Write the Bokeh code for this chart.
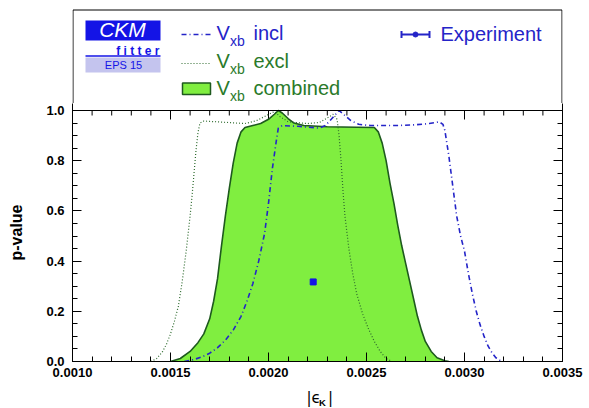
from bokeh.plotting import figure
from bokeh.models import Range1d, LinearAxis, FixedTicker, PrintfTickFormatter, Span
from bokeh.layouts import column
from bokeh.core.properties import value
from bokeh.embed import file_html
from bokeh.resources import INLINE

FONT = "Liberation Sans"

# ---------------- data ----------------
comb_x = [0.00150, 0.00155, 0.00160, 0.00164, 0.00167, 0.00170, 0.00172, 0.00174, 0.00176,
          0.00178, 0.00180, 0.00182, 0.00184, 0.00186, 0.00188, 0.00192, 0.00196, 0.00200,
          0.00203, 0.00205, 0.00207, 0.00210, 0.00213, 0.00218, 0.00230, 0.00245, 0.00254,
          0.00256, 0.00258, 0.00260, 0.00262, 0.00264, 0.00266, 0.00268, 0.00270, 0.00272,
          0.00274, 0.00276, 0.00278, 0.00280, 0.00283, 0.00286, 0.00290, 0.00292]
comb_y = [0.0, 0.012, 0.04, 0.075, 0.11, 0.17, 0.24, 0.33, 0.46,
          0.58, 0.69, 0.79, 0.87, 0.915, 0.932, 0.94, 0.948, 0.965,
          0.985, 1.0, 0.99, 0.968, 0.95, 0.94, 0.935, 0.933, 0.932,
          0.915, 0.87, 0.80, 0.71, 0.63, 0.54, 0.46, 0.39, 0.32,
          0.25, 0.18, 0.125, 0.08, 0.04, 0.015, 0.003, 0.0]

incl_x = [0.00157, 0.00162, 0.00166, 0.00170, 0.00174, 0.00178, 0.00182, 0.00186, 0.00189,
          0.00192, 0.00195, 0.00198, 0.00200, 0.00202, 0.00204, 0.00205, 0.00207, 0.00215,
          0.00226, 0.00229, 0.00232, 0.00236, 0.00239, 0.00242, 0.00246, 0.00252, 0.00265,
          0.00275, 0.00282, 0.00287, 0.00289, 0.00290, 0.00292, 0.00294, 0.00296, 0.00298,
          0.00300, 0.00302, 0.00304, 0.00306, 0.00308, 0.00310, 0.00312, 0.00314, 0.00316,
          0.00318, 0.00320]
incl_y = [0.0, 0.008, 0.018, 0.033, 0.055, 0.085, 0.125, 0.18, 0.24,
          0.31, 0.40, 0.51, 0.63, 0.77, 0.88, 0.93, 0.94, 0.937,
          0.93, 0.94, 0.965, 1.0, 0.98, 0.96, 0.945, 0.94, 0.94,
          0.943, 0.948, 0.955, 0.945, 0.92, 0.82, 0.70, 0.58, 0.50,
          0.44, 0.35, 0.27, 0.20, 0.145, 0.10, 0.062, 0.035, 0.015,
          0.005, 0.0]

excl_x = [0.00140, 0.00143, 0.00146, 0.00148, 0.00150, 0.00152, 0.00154, 0.00156, 0.00158,
          0.00160, 0.00161, 0.00162, 0.00163, 0.00164, 0.00165, 0.00167, 0.00180, 0.00188,
          0.00194, 0.00199, 0.00203, 0.00206, 0.00210, 0.00220, 0.00226, 0.00230, 0.00233,
          0.00235, 0.00236, 0.00237, 0.00238, 0.00239, 0.00241, 0.00243, 0.00245, 0.00248,
          0.00251, 0.00254, 0.00257, 0.00260, 0.00263]
excl_y = [0.0, 0.012, 0.04, 0.07, 0.11, 0.16, 0.22, 0.32, 0.44,
          0.58, 0.66, 0.75, 0.84, 0.91, 0.95, 0.958, 0.952, 0.948,
          0.96, 0.98, 0.996, 0.975, 0.955, 0.948, 0.952, 0.97, 0.985,
          0.965, 0.90, 0.80, 0.68, 0.58, 0.45, 0.35, 0.27, 0.19,
          0.13, 0.08, 0.04, 0.012, 0.0]

exp_x = [0.002228]
exp_err = [0.000011]
exp_y = [0.317]

x_major = [0.0010, 0.0015, 0.0020, 0.0025, 0.0030, 0.0035]
x_minor = [0.0010 + 0.0001 * i for i in range(26)]
y_major = [0.0, 0.2, 0.4, 0.6, 0.8, 1.0]
y_minor = [0.05 * i for i in range(21)]

# ---------------- colors ----------------
BLUE = "#2424c8"
GREEN_TXT = "#2a7a2a"
FILL = "#80ee40"
OUT = "#1e5a1e"
DOT = "#2e6b2e"
LOGO_BLUE = "#1414e6"
LAV = "#c4c4ee"

BL, BR = 72, 27          # shared left / right borders (frames are aligned in the column)
W = 589
FR = W - BR              # frame right edge in picture pixels


def txt(fig, x, baseline, s, size, color, font=FONT, style="normal", align="left"):
    """place text by its alphabetic baseline (drawn with a middle anchor)"""
    fig.text(x=[x], y=[baseline - 0.31 * size], text=[s], text_color=color, text_font=value(font),
             text_font_size=f"{size}px", text_font_style=style, text_align=align,
             text_baseline="middle")


# ---------------- top (legend) panel: coordinates = picture pixels ----------------
TOP_H = 103
top = figure(width=W, height=TOP_H, x_range=Range1d(BL, FR), y_range=Range1d(TOP_H, 0),
             x_axis_type=None, y_axis_type=None,
             output_backend="svg", toolbar_location=None,
             min_border_left=BL, min_border_right=BR, min_border_top=0, min_border_bottom=0)
top.grid.visible = False
top.outline_line_color = None

# legend box (left, top, right sides; bottom is the plot's top edge)
top.line(x=[BL + 0.5, BL + 0.5, FR - 0.5, FR - 0.5], y=[TOP_H, 9.5, 9.5, TOP_H],
         line_color="black", line_width=1)

# logo
top.quad(left=[85], right=[160], top=[20], bottom=[40], fill_color=LOGO_BLUE, line_color=None)
top.quad(left=[85], right=[160], top=[57], bottom=[72], fill_color=LAV, line_color=None)
top.segment(x0=[85], y0=[55.5], x1=[160], y1=[55.5], line_color=LOGO_BLUE, line_width=1.5)
txt(top, 122, 36, "CKM", 21, "white", style="italic", align="center")
txt(top, 159, 54, "f i t t e r", 12, LOGO_BLUE, style="bold", align="right")
txt(top, 123, 68, "EPS 15", 11, LOGO_BLUE, align="center")

# legend samples
top.line(x=[181, 210], y=[34, 34], line_color=BLUE, line_width=1.5, line_dash="5 3 1 3")
top.line(x=[181, 210], y=[63, 63], line_color=DOT, line_width=1.2, line_dash="1 2")
top.quad(left=[182], right=[210], top=[82.5], bottom=[94], fill_color=FILL, line_color=OUT, line_width=1.5)

rows = [("incl", 38.5, BLUE), ("excl", 66.5, GREEN_TXT), ("combined", 93.5, GREEN_TXT)]
for word, yb, col in rows:
    txt(top, 216, yb, "V", 20, col)
    txt(top, 229.5, yb + 6, "xb", 14, col)
    txt(top, 253, yb, word, 20, col)

# experiment legend symbol
top.segment(x0=[401], y0=[34], x1=[429], y1=[34], line_color=BLUE, line_width=2)
top.segment(x0=[401, 429], y0=[30.5, 30.5], x1=[401, 429], y1=[37.5, 37.5], line_color=BLUE, line_width=2)
top.scatter(x=[415], y=[34], size=5, color=BLUE)
txt(top, 440, 40, "Experiment", 20, BLUE)

# ---------------- main plot ----------------
MAIN_BOTTOM = 385
YTOP = (361 - TOP_H) / 251.0
p = figure(width=W, height=MAIN_BOTTOM - TOP_H, x_range=Range1d(0.0010, 0.0035), y_range=Range1d(0, YTOP),
           output_backend="svg", toolbar_location=None,
           min_border_left=BL, min_border_right=BR, min_border_top=0, min_border_bottom=MAIN_BOTTOM - 361)
p.grid.visible = False
p.outline_line_color = None


def style_axis(ax, ticker, show_labels, fmt=None):
    ax.ticker = ticker
    if fmt:
        ax.formatter = PrintfTickFormatter(format=fmt)
    ax.major_tick_in = 9
    ax.major_tick_out = 0
    ax.minor_tick_in = 5
    ax.minor_tick_out = 0
    ax.major_tick_line_color = "black"
    ax.minor_tick_line_color = "black"
    ax.axis_line_color = "black"
    if show_labels:
        ax.major_label_text_font = FONT
        ax.major_label_text_font_size = "13px"
        ax.major_label_text_font_style = "bold"
        ax.major_label_text_color = "black"
    else:
        ax.major_label_text_font_size = "0px"
        ax.major_label_text_color = None
        ax.major_label_standoff = 0


style_axis(p.xaxis[0], FixedTicker(ticks=x_major, minor_ticks=x_minor), True, "%.4f")
p.xaxis[0].major_label_standoff = 6
style_axis(p.yaxis[0], FixedTicker(ticks=y_major, minor_ticks=y_minor), True, "%.1f")
p.yaxis[0].major_label_standoff = 8
p.yaxis[0].axis_label = "p-value"
p.yaxis[0].axis_label_text_font = FONT
p.yaxis[0].axis_label_text_font_size = "16px"
p.yaxis[0].axis_label_text_font_style = "bold"
p.yaxis[0].axis_label_text_color = "black"
p.yaxis[0].axis_label_standoff = 18

ax_r = LinearAxis()
style_axis(ax_r, FixedTicker(ticks=y_major, minor_ticks=y_minor), False)
p.add_layout(ax_r, "right")

# top edge of the plot at p-value 1 with inward ticks
p.add_layout(Span(location=1.0, dimension="width", line_color="black", line_width=1))
TL_MAJ = 9 / 251.0
TL_MIN = 5 / 251.0
p.segment(x0=x_major, y0=[1.0] * len(x_major), x1=x_major, y1=[1.0 - TL_MAJ] * len(x_major),
          line_color="black", line_width=1)
p.segment(x0=x_minor, y0=[1.0] * len(x_minor), x1=x_minor, y1=[1.0 - TL_MIN] * len(x_minor),
          line_color="black", line_width=1)

# curves
p.varea(x=comb_x, y1=[0] * len(comb_x), y2=comb_y, fill_color=FILL)
p.line(comb_x, comb_y, line_color=OUT, line_width=1.6)
p.line(excl_x, excl_y, line_color=DOT, line_width=1.2, line_dash="1 2")
p.line(incl_x, incl_y, line_color=BLUE, line_width=1.6, line_dash="5 3 1 3")

# experiment
p.segment(x0=[exp_x[0] - exp_err[0]], y0=exp_y, x1=[exp_x[0] + exp_err[0]], y1=exp_y,
          line_color=LOGO_BLUE, line_width=1.5)
p.scatter(exp_x, exp_y, marker="square", size=6, color=LOGO_BLUE)

# ---------------- bottom strip: x-axis title |eps_K| (coordinates = picture pixels) ----------------
bot = figure(width=W, height=408 - MAIN_BOTTOM, x_range=Range1d(BL, FR), y_range=Range1d(408, MAIN_BOTTOM),
             x_axis_type=None, y_axis_type=None,
             output_backend="svg", toolbar_location=None,
             min_border_left=BL, min_border_right=BR, min_border_top=0, min_border_bottom=0)
bot.grid.visible = False
bot.outline_line_color = None
txt(bot, 306, 402, "|ϵ", 15, "black", font="DejaVu Sans")
txt(bot, 318.5, 405, "K", 9.5, "black", style="bold")
txt(bot, 327.5, 402, "|", 15, "black", font="DejaVu Sans")

layout = column(top, p, bot, spacing=0)
open("out.html", "w").write(file_html(layout, INLINE))
